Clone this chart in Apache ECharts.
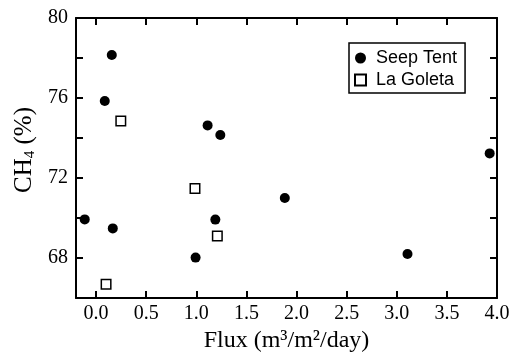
<!DOCTYPE html>
<html>
<head>
<meta charset="utf-8">
<script src="https://cdn.jsdelivr.net/npm/echarts@6/dist/echarts.min.js"></script>
<style>
  html, body { margin: 0; padding: 0; background: #fff; }
  #chart { width: 516px; height: 354px; }
</style>
</head>
<body>
<div id="chart"></div>
<script>
// Seep Tent (filled circles): [flux, CH4 %]
const seepTent = [
  [0.157, 78.15], [0.087, 75.85], [1.113, 74.63], [1.24, 74.15],
  [-0.113, 69.93], [0.167, 69.48], [1.19, 69.92], [0.993, 68.02],
  [1.883, 71.0], [3.107, 68.2], [3.927, 73.23]
];
// La Goleta (open squares)
const laGoleta = [
  [0.247, 74.85], [0.987, 71.47], [1.21, 69.1], [0.1, 66.69]
];
const xTicks = [0, 0.5, 1, 1.5, 2, 2.5, 3, 3.5, 4];
const yLabels = [68, 72, 76, 80];

const chart = echarts.init(document.getElementById('chart'));

const serif = 'Liberation Serif';
const sans = 'Liberation Sans';
const lineStyle = { color: '#000', width: 2 };
const tickStyle = { color: '#000', width: 2 };

const option = {
  animation: false,
  backgroundColor: '#fff',
  textStyle: { fontFamily: serif },
  grid: { left: 76, right: 19, top: 18, bottom: 56, containLabel: false, outerBoundsMode: 'none' },
  legend: {
    orient: 'vertical',
    left: 349,
    top: 43,
    padding: [5, 8, 3, 5],
    itemGap: 2,
    itemWidth: 11,
    itemHeight: 11,
    borderColor: '#000',
    borderWidth: 1.5,
    borderRadius: 0,
    textStyle: { fontFamily: sans, fontSize: 18, color: '#000', lineHeight: 20, padding: [0, 0, 0, 5] },
    data: ['Seep Tent', 'La Goleta']
  },
  xAxis: [
    {
      type: 'value',
      min: -0.2,
      max: 4.0,
      name: 'Flux (m³/m²/day)',
      nameLocation: 'middle',
      nameGap: 31,
      nameTextStyle: { fontFamily: serif, fontSize: 24, color: '#000' },
      axisLine: { onZero: false, lineStyle: lineStyle },
      axisTick: { inside: true, length: 7, lineStyle: tickStyle, customValues: xTicks },
      axisLabel: {
        customValues: xTicks, margin: 6,
        fontFamily: serif, fontSize: 20, color: '#000',
        formatter: v => '{t|' + v.toFixed(1) + '}',
        rich: { t: { fontFamily: serif, fontSize: 20, color: '#000' } }
      },
      splitLine: { show: false }
    },
    {
      type: 'value',
      position: 'top',
      min: -0.2,
      max: 4.0,
      axisLine: { onZero: false, lineStyle: lineStyle },
      axisTick: { inside: true, length: 7, lineStyle: tickStyle, customValues: xTicks },
      axisLabel: { show: false },
      splitLine: { show: false }
    }
  ],
  yAxis: [
    {
      type: 'value',
      min: 66,
      max: 80,
      interval: 2,
      name: '{a|CH}{s|4}{a| (%)}',
      nameLocation: 'middle',
      nameGap: 30,
      nameTextStyle: {
        padding: [0, 0, 0, 16],
        rich: {
          a: { fontFamily: serif, fontSize: 25, color: '#000' },
          s: { fontFamily: serif, fontSize: 15, color: '#000', padding: [10, 0, 0, 0] }
        }
      },
      axisLine: { onZero: false, lineStyle: lineStyle },
      axisTick: { inside: true, length: 7, lineStyle: tickStyle },
      axisLabel: {
        customValues: yLabels, margin: 8,
        fontFamily: serif, fontSize: 20, color: '#000'
      },
      splitLine: { show: false }
    },
    {
      type: 'value',
      position: 'right',
      min: 66,
      max: 80,
      interval: 2,
      axisLine: { onZero: false, lineStyle: lineStyle },
      axisTick: { inside: true, length: 7, lineStyle: tickStyle },
      axisLabel: { show: false },
      splitLine: { show: false }
    }
  ],
  series: [
    {
      name: 'Seep Tent',
      type: 'scatter',
      symbol: 'circle',
      symbolSize: 10,
      itemStyle: { color: '#000', opacity: 1 },
      data: seepTent
    },
    {
      name: 'La Goleta',
      type: 'scatter',
      symbol: 'rect',
      symbolSize: 9.5,
      itemStyle: { color: '#fff', borderColor: '#000', borderWidth: 1.5, opacity: 1 },
      data: laGoleta
    }
  ]
};

chart.setOption(option);
</script>
</body>
</html>
